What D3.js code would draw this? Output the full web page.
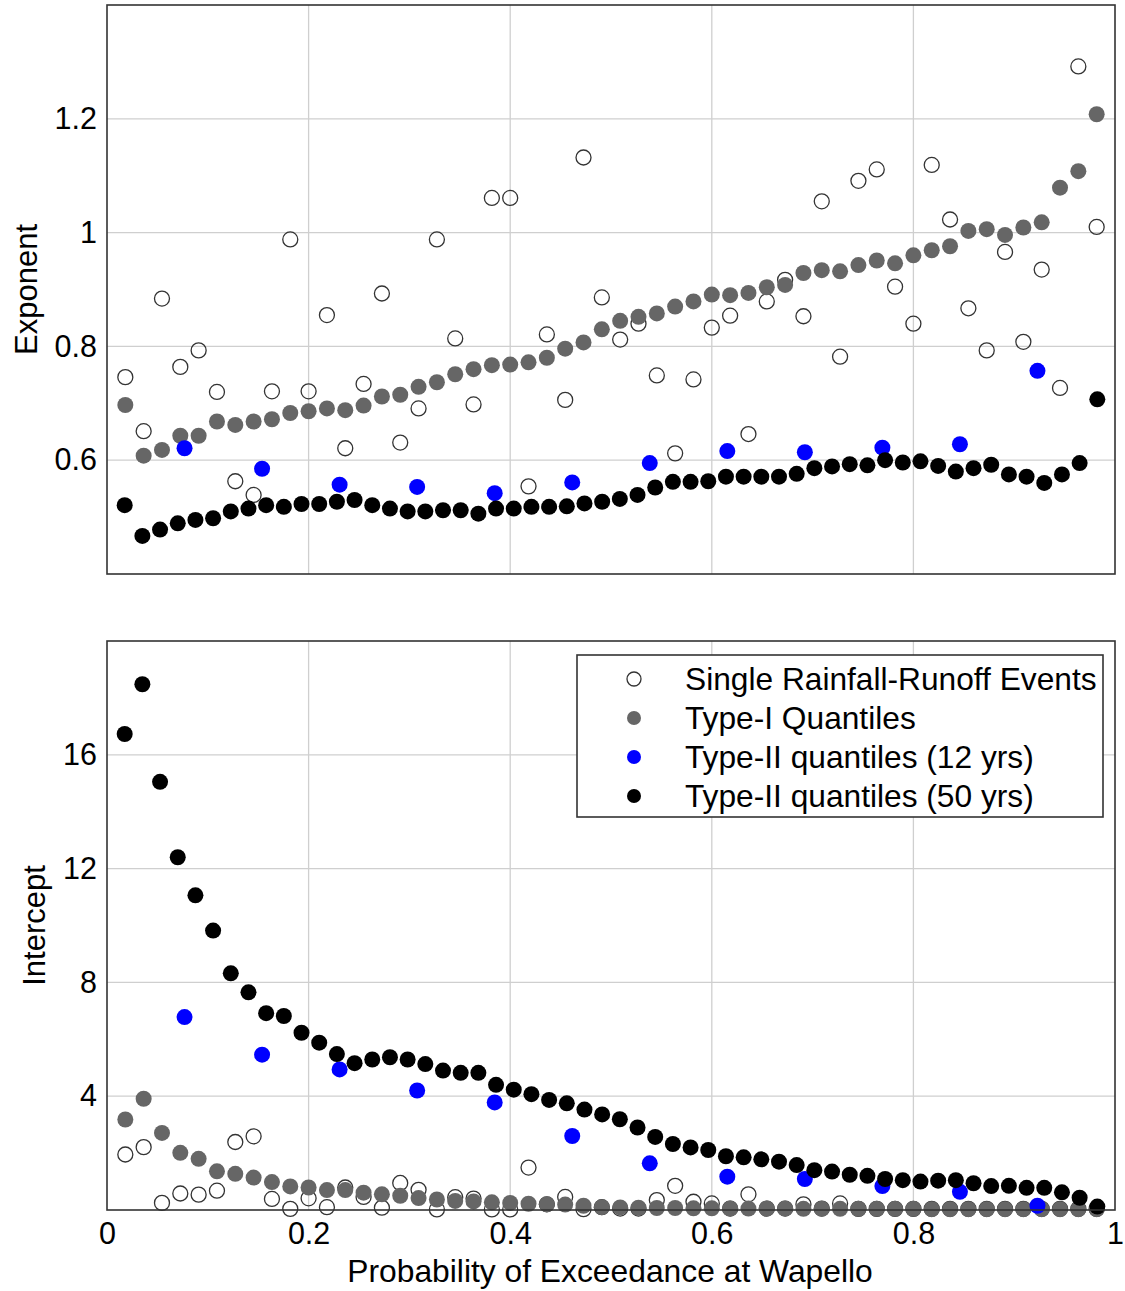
<!DOCTYPE html>
<html>
<head>
<meta charset="utf-8">
<script src="https://cdnjs.cloudflare.com/ajax/libs/d3/7.8.5/d3.min.js"></script>
<style>
  body { margin: 0; background: #fff; }
  text { font-family: Arial, "Liberation Sans", sans-serif; fill: #000; }
</style>
</head>
<body>
<script>
// values (plotting positions i/(n+1))
var xTicks = [0, 0.2, 0.4, 0.6, 0.8, 1];
var expTicks = [0.6, 0.8, 1, 1.2];
var intTicks = [4, 8, 12, 16];

var seriesNames = ["Single Rainfall-Runoff Events", "Type-I Quantiles",
                   "Type-II quantiles (12 yrs)", "Type-II quantiles (50 yrs)"];

// exponent (top panel)
var eventsExp = [0.746, 0.651, 0.884, 0.764, 0.793, 0.720, 0.563, 0.539, 0.721, 0.988,
                 0.721, 0.855, 0.621, 0.734, 0.893, 0.631, 0.691, 0.988, 0.814, 0.698,
                 1.061, 1.061, 0.554, 0.821, 0.706, 1.132, 0.886, 0.812, 0.840, 0.749,
                 0.612, 0.742, 0.833, 0.854, 0.646, 0.879, 0.917, 0.853, 1.055, 0.782,
                 1.091, 1.111, 0.905, 0.840, 1.119, 1.023, 0.867, 0.793, 0.966, 0.808,
                 0.935, 0.727, 1.292, 1.010];
var typeIExp = [0.697, 0.608, 0.618, 0.643, 0.643, 0.668, 0.662, 0.668, 0.672, 0.683,
                0.686, 0.691, 0.688, 0.696, 0.712, 0.715, 0.729, 0.737, 0.751, 0.760,
                0.767, 0.768, 0.772, 0.780, 0.796, 0.807, 0.830, 0.845, 0.852, 0.858,
                0.870, 0.879, 0.891, 0.890, 0.894, 0.904, 0.908, 0.929, 0.934, 0.932,
                0.943, 0.951, 0.946, 0.960, 0.969, 0.976, 1.003, 1.006, 0.996, 1.009,
                1.018, 1.079, 1.108, 1.208];
var typeII12Exp = [0.621, 0.585, 0.557, 0.553, 0.542, 0.561, 0.595, 0.616, 0.614, 0.622,
                   0.628, 0.757];
var typeII50Exp = [0.521, 0.467, 0.478, 0.489, 0.495, 0.498, 0.510, 0.515, 0.521, 0.518,
                   0.523, 0.523, 0.527, 0.530, 0.521, 0.515, 0.510, 0.510, 0.512, 0.512,
                   0.506, 0.515, 0.515, 0.518, 0.518, 0.519, 0.524, 0.527, 0.532, 0.539,
                   0.552, 0.562, 0.562, 0.563, 0.571, 0.571, 0.571, 0.571, 0.576, 0.586,
                   0.589, 0.593, 0.591, 0.600, 0.596, 0.598, 0.590, 0.580, 0.586, 0.592,
                   0.575, 0.571, 0.560, 0.575, 0.595, 0.707];

// intercept (bottom panel)
var eventsInt = [1.95, 2.21, 0.25, 0.58, 0.54, 0.68, 2.39, 2.59, 0.39, 0.04,
                 0.41, 0.10, 0.79, 0.46, 0.08, 0.95, 0.71, 0.02, 0.45, 0.40,
                 0.02, 0.02, 1.49, 0.20, 0.46, 0.03, 0.10, 0.05, 0.05, 0.35,
                 0.85, 0.29, 0.23, 0.05, 0.55, 0.05, 0.05, 0.20, 0.05, 0.23,
                 0.04, 0.04, 0.04, 0.04, 0.04, 0.04, 0.04, 0.04, 0.04, 0.04,
                 0.04, 0.04, 0.04, 0.04];
var typeIInt = [3.18, 3.91, 2.71, 2.01, 1.80, 1.36, 1.27, 1.14, 0.98, 0.83,
                0.79, 0.70, 0.70, 0.61, 0.55, 0.50, 0.42, 0.37, 0.32, 0.30,
                0.27, 0.25, 0.22, 0.20, 0.19, 0.15, 0.10, 0.09, 0.08, 0.07,
                0.07, 0.06, 0.06, 0.05, 0.05, 0.05, 0.05, 0.04, 0.04, 0.04,
                0.04, 0.04, 0.04, 0.04, 0.03, 0.03, 0.03, 0.03, 0.03, 0.03,
                0.03, 0.03, 0.03, 0.03];
var typeII12Int = [6.78, 5.46, 4.94, 4.20, 3.78, 2.60, 1.64, 1.17, 1.09, 0.84,
                   0.64, 0.15];
var typeII50Int = [16.73, 18.48, 15.05, 12.40, 11.06, 9.82, 8.32, 7.65, 6.92, 6.82,
                   6.23, 5.88, 5.48, 5.16, 5.29, 5.37, 5.29, 5.13, 4.90, 4.82,
                   4.82, 4.40, 4.23, 4.07, 3.87, 3.75, 3.53, 3.36, 3.19, 2.90,
                   2.57, 2.32, 2.20, 2.11, 1.89, 1.85, 1.78, 1.70, 1.58, 1.40,
                   1.35, 1.24, 1.20, 1.09, 1.05, 1.00, 1.03, 1.05, 0.94, 0.84,
                   0.85, 0.78, 0.78, 0.62, 0.43, 0.12];

var width = 1125, height = 1291,
    left = 107, right = 1115;

// marker styles, in legend order
var styles = [
  {fill: "none", stroke: "#333", sw: 1.3, r: 7.5},
  {fill: "#666666", stroke: "none", sw: 0, r: 8},
  {fill: "#0000ff", stroke: "none", sw: 0, r: 8},
  {fill: "#000000", stroke: "none", sw: 0, r: 8}
];

var svg = d3.select("body").append("svg")
    .attr("width", width)
    .attr("height", height);

var x_scale = d3.scaleLinear().domain([0, 1]).range([left, right]);

// weibull plotting position for each value
function withPos(vals) {
  var n = vals.length;
  return vals.map(function(v, i) { return {p: (i + 1) / (n + 1), v: v}; });
}

function panel(top, bottom, yDomain, yTicks, series, title, titleX) {
  var y_scale = d3.scaleLinear().domain(yDomain).range([bottom, top]);
  var g = svg.append("g");

  // grid
  g.selectAll(".vgrid").data(xTicks.slice(1, -1)).enter().append("line")
      .attr("x1", function(d) { return x_scale(d); })
      .attr("x2", function(d) { return x_scale(d); })
      .attr("y1", top).attr("y2", bottom)
      .attr("stroke", "#cfcfcf").attr("stroke-width", 1.3);
  g.selectAll(".hgrid").data(yTicks).enter().append("line")
      .attr("y1", function(d) { return y_scale(d); })
      .attr("y2", function(d) { return y_scale(d); })
      .attr("x1", left).attr("x2", right)
      .attr("stroke", "#cfcfcf").attr("stroke-width", 1.3);

  // y axis labels (no tick marks)
  var y_axis = d3.axisLeft(y_scale).tickValues(yTicks).tickSize(0).tickPadding(10)
      .tickFormat(function(d) { return String(d); });
  var ya = g.append("g").attr("transform", "translate(" + left + ",0)").call(y_axis);
  ya.select(".domain").remove();
  ya.selectAll("text").style("font-size", "30.5px").attr("font-family", null);

  // points
  series.forEach(function(vals, k) {
    var s = styles[k];
    g.append("g").selectAll("circle").data(withPos(vals)).enter().append("circle")
        .attr("cx", function(d) { return x_scale(d.p); })
        .attr("cy", function(d) { return y_scale(d.v); })
        .attr("r", s.r)
        .attr("fill", s.fill)
        .attr("stroke", s.stroke)
        .attr("stroke-width", s.sw);
  });

  // box
  g.append("rect")
      .attr("x", left).attr("y", top)
      .attr("width", right - left).attr("height", bottom - top)
      .attr("fill", "none").attr("stroke", "#333").attr("stroke-width", 1.6);

  svg.append("text")
      .attr("transform", "translate(" + titleX + "," + ((top + bottom) / 2) + ") rotate(-90)")
      .attr("text-anchor", "middle")
      .style("font-size", "31px")
      .text(title);

  return y_scale;
}

panel(5, 574, [0.4, 1.4], expTicks,
      [eventsExp, typeIExp, typeII12Exp, typeII50Exp], "Exponent", 37);
panel(641, 1210, [0, 20], intTicks,
      [eventsInt, typeIInt, typeII12Int, typeII50Int], "Intercept", 45);

// x axis under the lower panel
var x_axis = d3.axisBottom(x_scale).tickValues(xTicks).tickSize(0).tickPadding(12)
    .tickFormat(function(d) { return String(d); });
var xa = svg.append("g").attr("transform", "translate(0,1210)").call(x_axis);
xa.select(".domain").remove();
xa.selectAll("text").style("font-size", "30.5px").attr("font-family", null);

svg.append("text")
    .attr("x", 610)
    .attr("y", 1282)
    .attr("text-anchor", "middle")
    .style("font-size", "31.8px")
    .text("Probability of Exceedance at Wapello");

// legend
var legend = svg.append("g").attr("transform", "translate(577,655)");
legend.append("rect")
    .attr("width", 526).attr("height", 162)
    .attr("fill", "#fff").attr("stroke", "#333").attr("stroke-width", 1.6);
var rows = legend.selectAll(".row").data(seriesNames).enter().append("g")
    .attr("transform", function(d, i) { return "translate(0," + (24 + i * 39) + ")"; });
rows.append("circle")
    .attr("cx", 57).attr("r", 7)
    .attr("fill", function(d, i) { return styles[i].fill === "none" ? "#fff" : styles[i].fill; })
    .attr("stroke", function(d, i) { return styles[i].stroke; })
    .attr("stroke-width", function(d, i) { return styles[i].sw; });
rows.append("text")
    .attr("x", 108)
    .attr("dy", "0.35em")
    .style("font-size", "31.7px")
    .text(function(d) { return d; });
</script>
</body>
</html>
